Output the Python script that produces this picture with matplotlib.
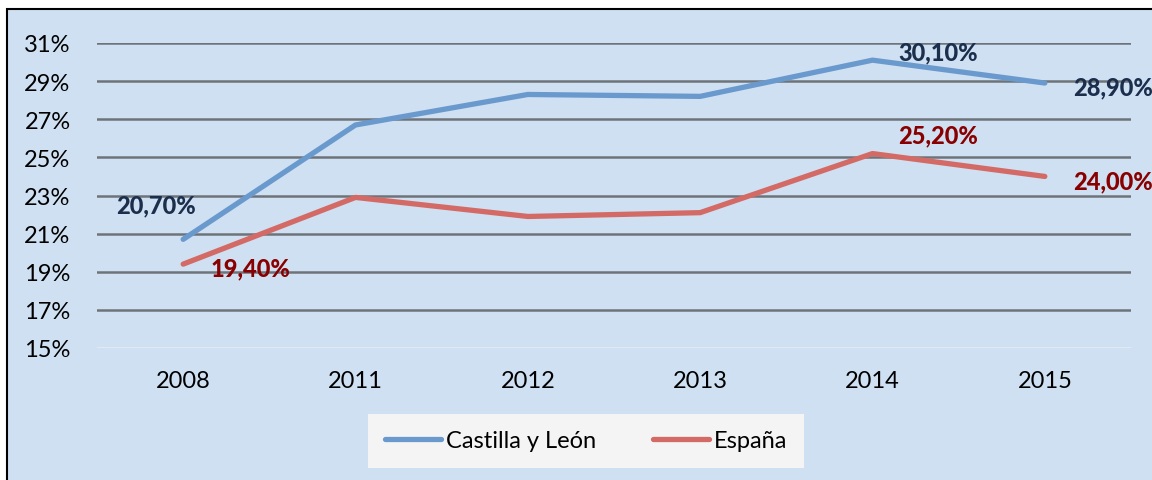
import matplotlib.pyplot as plt
from matplotlib.patches import Rectangle

years = ['2008', '2011', '2012', '2013', '2014', '2015']
castilla = [20.7, 26.7, 28.3, 28.2, 30.1, 28.9]
espana = [19.4, 22.9, 21.9, 22.1, 25.2, 24.0]
yticks = [15, 17, 19, 21, 23, 25, 27, 29, 31]

plt.rcParams['font.family'] = ['Lato', 'DejaVu Sans']

fig = plt.figure(figsize=(11.52, 4.81), dpi=100)
fig.patch.set_facecolor('white')
# chart-area frame
fig.patches.append(Rectangle((7/1152, -0.05), 1.1, 1 - 10/481 + 0.05, transform=fig.transFigure,
                             facecolor='#CFE0F2', edgecolor='black', linewidth=1.5, zorder=-10))

ax = fig.add_axes([97/1152, 1 - 349/481, (1131 - 97)/1152, (349 - 44)/481])
ax.set_facecolor('none')
x = range(len(years))
ax.plot(x, castilla, color='#6A9ACD', lw=3.8, solid_capstyle='round', label='Castilla y León', clip_on=False, zorder=3)
ax.plot(x, espana, color='#D46A66', lw=3.8, solid_capstyle='round', label='España', clip_on=False, zorder=3)

ax.set_xlim(-0.5, len(years) - 0.5)
ax.set_ylim(15, 31)
ax.set_xticks(list(x))
ax.set_xticklabels(years)
ax.set_yticks(yticks)
ax.set_yticklabels([f'{v}%' for v in yticks])
ax.tick_params(length=0, labelsize=17)
ax.tick_params(axis='x', pad=16)
ax.tick_params(axis='y', pad=19)
for s in ax.spines.values():
    s.set_visible(False)
for v in yticks:
    ax.axhline(v, color='#E8EEF4' if v == 15 else '#6E737A', lw=1.8, zorder=1)

def fmt(v):
    return f'{v:.2f}%'.replace('.', ',')

blue_lab = '#1B2F4D'
red_lab = '#880000'
offs_c = {0: (-27, 34), 4: (66, 8), 5: (68, -4)}
offs_e = {0: (67, -4), 4: (66, 19), 5: (68, -4)}
for i, (dx, dy) in offs_c.items():
    ax.annotate(fmt(castilla[i]), (i, castilla[i]), xytext=(dx, dy), textcoords='offset pixels',
                ha='center', va='center', fontsize=17, fontweight='black', color=blue_lab, annotation_clip=False)
for i, (dx, dy) in offs_e.items():
    ax.annotate(fmt(espana[i]), (i, espana[i]), xytext=(dx, dy), textcoords='offset pixels',
                ha='center', va='center', fontsize=17, fontweight='black', color=red_lab, annotation_clip=False)

leg = fig.legend(loc='center', bbox_to_anchor=(586/1152, 1 - 442/481), ncol=2, fontsize=17,
                 frameon=True, fancybox=False, handlelength=2.4, handletextpad=0.2, columnspacing=2.4,
                 borderpad=0.7)
leg.get_frame().set_facecolor('#F4F4F4')
leg.get_frame().set_edgecolor('none')
leg.get_frame().set_alpha(1)

fig.savefig('out.png', dpi=100)
